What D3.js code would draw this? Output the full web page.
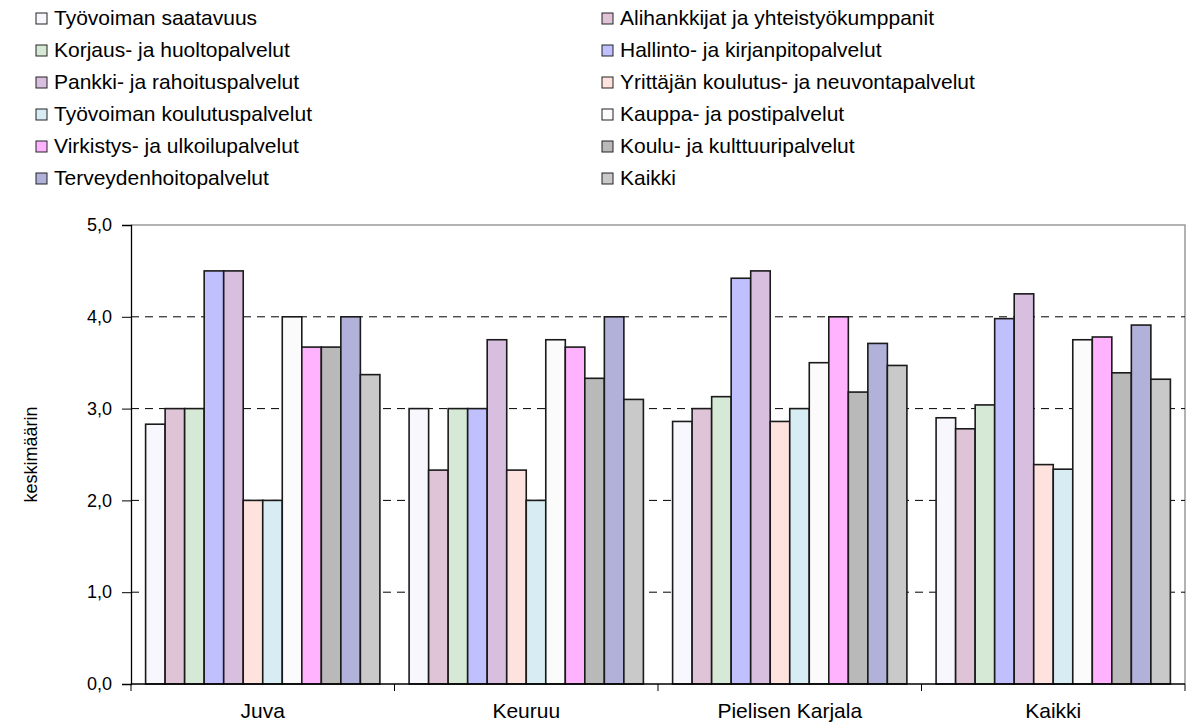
<!DOCTYPE html>
<html><head><meta charset="utf-8">
<script src="https://cdn.jsdelivr.net/npm/d3@7/dist/d3.min.js"></script>
<style>
html,body{margin:0;padding:0;background:#fff;}
text{font-family:"Liberation Sans",Arial,sans-serif;}
</style></head>
<body><svg id="c" width="1191" height="722"></svg>
<script>
const categories = ["Juva", "Keuruu", "Pielisen Karjala", "Kaikki"];
const seriesNames = [
  "Työvoiman saatavuus", "Alihankkijat ja yhteistyökumppanit",
  "Korjaus- ja huoltopalvelut", "Hallinto- ja kirjanpitopalvelut",
  "Pankki- ja rahoituspalvelut", "Yrittäjän koulutus- ja neuvontapalvelut",
  "Työvoiman koulutuspalvelut", "Kauppa- ja postipalvelut",
  "Virkistys- ja ulkoilupalvelut", "Koulu- ja kulttuuripalvelut",
  "Terveydenhoitopalvelut", "Kaikki"
];
const seriesColors = ["#f7f7fd", "#dfc3d6", "#d6e9d6", "#c0c0ff", "#d8bfdf", "#fde2de",
  "#d8ecf4", "#fbfbfb", "#ffb3ff", "#b9b9b9", "#b1b1da", "#c9c9c9"];
// values[series][category]
const valJuva   = [2.83, 3.00, 3.00, 4.50, 4.50, 2.00, 2.00, 4.00, 3.67, 3.67, 4.00, 3.37];
const valKeuruu = [3.00, 2.33, 3.00, 3.00, 3.75, 2.33, 2.00, 3.75, 3.67, 3.33, 4.00, 3.10];
const valPK     = [2.86, 3.00, 3.13, 4.42, 4.50, 2.86, 3.00, 3.50, 4.00, 3.18, 3.71, 3.47];
const valKaikki = [2.90, 2.78, 3.04, 3.98, 4.25, 2.39, 2.34, 3.75, 3.78, 3.39, 3.91, 3.32];
const yTicks = [0, 1, 2, 3, 4, 5];
const yLabel = "keskimäärin";

const byCat = [valJuva, valKeuruu, valPK, valKaikki];
const svg = d3.select("#c");
const L = 131, R = 1185, T = 225, B = 684;

const x0 = d3.scaleBand().domain(categories).range([L, R]);
const bw = x0.bandwidth();
const x1 = d3.scaleBand().domain(seriesNames).range([14.6, bw - 14.6]);
const y = d3.scaleLinear().domain([0, 5]).range([B, T]);

// plot border (top/right gray)
svg.append("path").attr("d", `M${L},${T}H${R}V${B}`).attr("fill", "none")
  .attr("stroke", "#999").attr("stroke-width", 1.5);

// gridlines
svg.append("g").selectAll("line").data(yTicks.filter(d => d > 0 && d < 5)).join("line")
  .attr("x1", L).attr("x2", R).attr("y1", d => y(d)).attr("y2", d => y(d))
  .attr("stroke", "#000").attr("stroke-width", 1).attr("stroke-dasharray", "8,6");

// bars
const g = svg.append("g");
categories.forEach((c, ci) => {
  g.append("g").attr("transform", `translate(${x0(c)},0)`)
    .selectAll("rect").data(seriesNames.map((s, si) => ({ s, si, v: byCat[ci][si] }))).join("rect")
    .attr("x", d => x1(d.s)).attr("width", x1.bandwidth())
    .attr("y", d => y(d.v)).attr("height", d => y(0) - y(d.v))
    .attr("fill", d => seriesColors[d.si]).attr("stroke", "#1a1a1a").attr("stroke-width", 1.6);
});

// y axis
const fmt = d => d3.format(".1f")(d).replace(".", ",");
const ya = svg.append("g").attr("transform", `translate(${L},0)`)
  .call(d3.axisLeft(y).tickValues(yTicks).tickFormat(fmt).tickSize(9).tickPadding(10));
ya.select(".domain").attr("stroke", "#000").attr("stroke-width", 1.3);
ya.selectAll(".tick line").attr("stroke", "#000");
ya.selectAll("text").attr("font-size", 18).attr("fill", "#000").attr("font-family", "Liberation Sans, Arial, sans-serif");

// x axis
const xa = svg.append("g").attr("transform", `translate(0,${B})`);
xa.append("line").attr("x1", L).attr("x2", R).attr("stroke", "#000").attr("stroke-width", 1.3);
const bounds = categories.map(c => x0(c)).concat([R]);
xa.selectAll("line.t").data(bounds).join("line").attr("class", "t")
  .attr("x1", d => d).attr("x2", d => d).attr("y1", 0).attr("y2", 7).attr("stroke", "#000");
xa.selectAll("text").data(categories).join("text")
  .attr("x", d => x0(d) + bw / 2).attr("y", 34).attr("text-anchor", "middle")
  .attr("font-size", 21).text(d => d);

// y label
svg.append("text").attr("transform", `translate(37,${(T + B) / 2}) rotate(-90)`)
  .attr("text-anchor", "middle").attr("font-size", 18).text(yLabel);

// legend
const leg = svg.append("g");
seriesNames.forEach((s, i) => {
  const col = i % 2, row = Math.floor(i / 2);
  const lx = col === 0 ? 36 : 602, ly = 25 + row * 32;
  leg.append("rect").attr("x", lx).attr("y", ly - 12).attr("width", 11).attr("height", 11)
    .attr("fill", seriesColors[i]).attr("stroke", "#222").attr("stroke-width", 1);
  leg.append("text").attr("x", lx + 18).attr("y", ly).attr("font-size", 21).text(s);
});
</script></body></html>
